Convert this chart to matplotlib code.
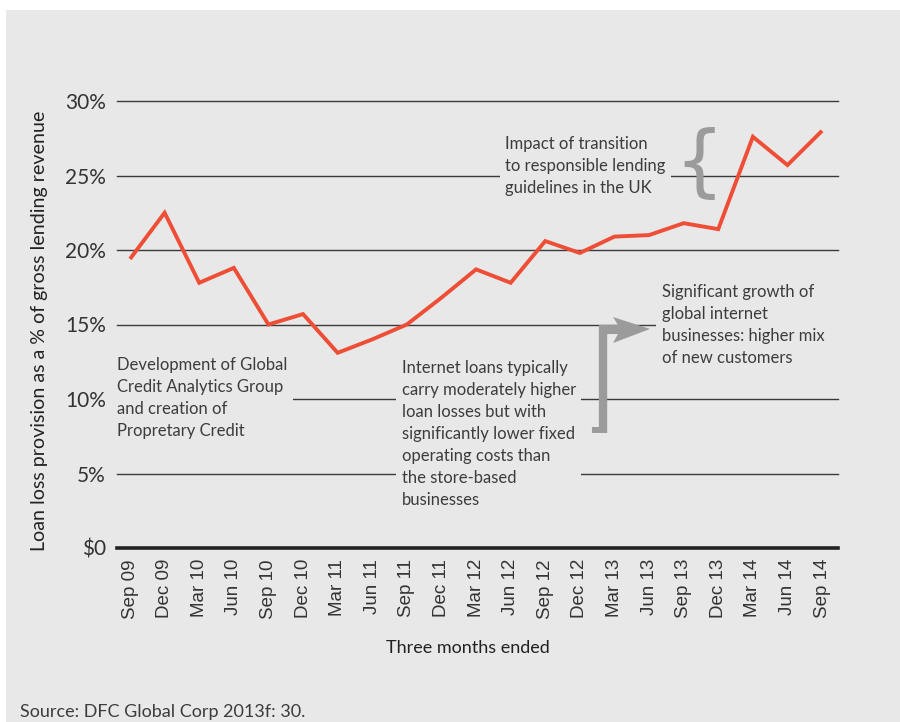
import matplotlib
matplotlib.use("Agg")
import matplotlib.pyplot as plt
from matplotlib.patches import Rectangle, Polygon

# Quarterly loan loss provision, % of gross lending revenue
quarters = ["Sep 09", "Dec 09", "Mar 10", "Jun 10", "Sep 10", "Dec 10", "Mar 11",
            "Jun 11", "Sep 11", "Dec 11", "Mar 12", "Jun 12", "Sep 12", "Dec 12",
            "Mar 13", "Jun 13", "Sep 13", "Dec 13", "Mar 14", "Jun 14", "Sep 14"]
provision_pct = [19.4, 22.5, 17.8, 18.8, 15.0, 15.7, 13.1,
                 14.0, 15.0, 16.8, 18.7, 17.8, 20.6, 19.8,
                 20.9, 21.0, 21.8, 21.4, 27.6, 25.7, 28.0]
y_ticks = [0, 5, 10, 15, 20, 25, 30]
y_tick_labels = ["$0", "5%", "10%", "15%", "20%", "25%", "30%"]

W, H = 900, 722
BG = "#e8e8e8"
TXT = "#3c3c3c"
LINE = "#ef4e36"
ANNO = "#9b9b9b"

fig = plt.figure(figsize=(W / 100, H / 100), dpi=100, facecolor="white")
fig.patches.append(Rectangle((6 / W, 0), 1 - 6 / W, 1 - 10 / H,
                             transform=fig.transFigure, facecolor=BG,
                             edgecolor="none", zorder=-10))

ax = fig.add_axes([117 / W, 1 - 548 / H, (838 - 117) / W, (548 - 101) / H])
ax.set_facecolor(BG)
ax.patch.set_alpha(0)
x = list(range(len(quarters)))
ax.set_xlim(-0.376, 20.46)
ax.set_ylim(0, 30)

for s in ax.spines.values():
    s.set_visible(False)

for v in y_ticks[1:]:
    ax.axhline(v, color="#3a3a3a", lw=1.0, zorder=1, clip_on=False)
ax.axhline(0, color="#222222", lw=2.6, zorder=2, clip_on=False)

ax.plot(x, provision_pct, color=LINE, lw=2.8, solid_joinstyle="miter",
        solid_capstyle="butt", zorder=5, clip_on=False)

ax.set_yticks(y_ticks)
ax.set_yticklabels(y_tick_labels, fontsize=15, color="#333333",
                   family=["Lato", "DejaVu Sans"])
ax.tick_params(axis="y", length=0, pad=8)
ax.set_xticks(x)
ax.set_xticklabels(quarters, rotation=90, fontsize=13.5, color="#333333",
                   family=["Liberation Sans", "DejaVu Sans"])
ax.tick_params(axis="x", length=0, pad=8)

anno_kw = dict(fontsize=12, color=TXT, family=["Lato", "DejaVu Sans"],
               linespacing=1.46, va="top", ha="left", zorder=3,
               bbox=dict(facecolor=BG, edgecolor="none", pad=4))

ax.text(-0.376, 12.8, "Development of Global\nCredit Analytics Group\n"
        "and creation of\nPropretary Credit", **anno_kw)
ax.text(7.85, 12.6, "Internet loans typically\ncarry moderately higher\n"
        "loan losses but with\nsignificantly lower fixed\noperating costs than\n"
        "the store-based\nbusinesses", **anno_kw)
ax.text(10.84, 27.68, "Impact of transition\nto responsible lending\n"
        "guidelines in the UK", **anno_kw)
ax.text(15.37, 17.72, "Significant growth of\nglobal internet\n"
        "businesses: higher mix   \nof new customers", **anno_kw)

# curly brace marking the jump in 2014
ax.text(16.45, 25.7, "{", fontsize=56, color=ANNO, ha="center", va="center",
        family=["DejaVu Sans"], zorder=3)

# elbow arrow pointing to the internet growth note
arrow = Polygon([(13.35, 7.72), (13.79, 7.72), (13.79, 14.36), (14.10, 14.36),
                 (13.96, 13.76), (15.03, 14.70), (13.96, 15.50), (14.10, 14.97),
                 (13.55, 14.97), (13.55, 8.12), (13.35, 8.12)],
                closed=True, facecolor=ANNO, edgecolor="none", zorder=4,
                clip_on=False)
ax.add_patch(arrow)

fig.text(40 / W, 1 - 331 / H, "Loan loss provision as a % of gross lending revenue",
         rotation=90, ha="center", va="center", fontsize=14.1, color="#222222",
         family=["Lato", "DejaVu Sans"])
fig.text(468 / W, 1 - 648 / H, "Three months ended", ha="center", va="center",
         fontsize=13, color="#222222", family=["Lato", "DejaVu Sans"])
fig.text(20 / W, 1 - 712 / H, "Source: DFC Global Corp 2013f: 30.", ha="left",
         va="center", fontsize=13, color=TXT, family=["Lato", "DejaVu Sans"])

fig.savefig("out.png", dpi=100, facecolor="white")
